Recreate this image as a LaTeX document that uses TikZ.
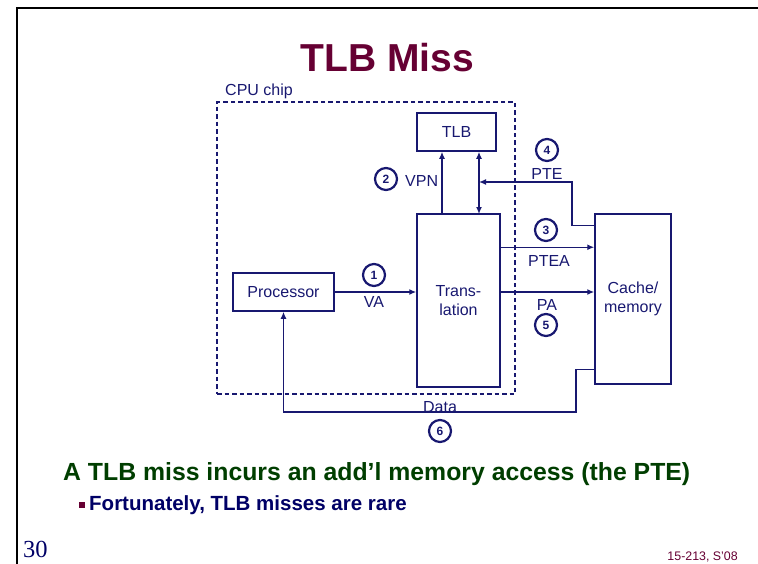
\documentclass[tikz,border=0pt]{standalone}
\usepackage{fontspec}
\setmainfont{Liberation Sans}
\newfontfamily\pagenumfont{Liberation Serif}
\usetikzlibrary{arrows.meta}
\definecolor{navy}{RGB}{24,24,112}
\definecolor{slidered}{RGB}{102,0,51}
\definecolor{slidegreen}{RGB}{0,62,0}
\definecolor{deepblue}{RGB}{0,0,102}

\tikzset{
  box/.style={draw=navy, line width=1.5pt, text=navy, align=center, inner sep=0pt,
              font=\fontsize{16}{19}\selectfont},
  lbl/.style={text=navy, inner sep=0pt, font=\fontsize{16}{19}\selectfont},
  num/.style={circle, draw=navy, line width=2.2pt, minimum size=22pt, inner sep=0pt,
              text=navy, font=\bfseries\fontsize{12}{12}\selectfont},
  chip/.style={draw=navy, line width=1.2pt, dash pattern=on 4.5pt off 3pt, inner sep=0pt},
  tip/.style={Latex[length=7pt,width=6pt]},
  link/.style={draw=navy, line width=1.4pt, -{Latex[length=7pt,width=6pt]}},
  dlink/.style={draw=navy, line width=1.4pt, {Latex[length=7pt,width=6pt]}-{Latex[length=7pt,width=6pt]}},
}

\begin{document}
\begin{tikzpicture}[x=1pt,y=-1pt]
\useasboundingbox (0,0) rectangle (758,563);

% slide frame
\draw[line width=2.5pt] (17,580) -- (17,8) -- (780,8);

% title
\node[anchor=base, inner sep=0pt, text=slidered,
      font=\bfseries\fontsize{39}{44}\selectfont] (title) at (387.5,71) {TLB Miss};

% CPU chip outline
\node[chip, minimum width=298pt, minimum height=292pt] (chip) at (366,248) {};
\node[lbl, anchor=base west] (chiplbl) at (225,95) {CPU chip};

% blocks
\node[box, minimum width=79pt, minimum height=38pt] (tlb) at (456.5,132) {TLB};
\node[box, minimum width=101pt, minimum height=38pt] (proc) at (283.5,292) {Processor};
\node[box, minimum width=83pt, minimum height=173pt] (trans) at (458.5,300.5) {Trans-\\lation};
\node[box, minimum width=76pt, minimum height=170pt] (mem) at (633,299) {Cache/\\memory};

% helper points on the block sides
\coordinate (vpnfoot) at (442,214);
\coordinate (tlbio) at (479,214);
\coordinate (ptebend) at (572,182);
\coordinate (pteaout) at ([yshift=-34pt]trans.north east);
\coordinate (pteout) at ([yshift=-12pt]mem.north west);
\coordinate (dataout) at ([yshift=15pt]mem.south west);
\coordinate (databend) at (576,412);

% connectors
\draw[link] (proc.east) -- (proc.east -| trans.west);
\draw[link] (vpnfoot) -- (vpnfoot |- tlb.south);
\draw[dlink] (tlbio) -- (tlbio |- tlb.south);
\draw[link] (pteaout) -- (pteaout -| mem.west);
\draw[link] (pteout) -| (ptebend) -- (ptebend -| tlbio);
\draw[link] (trans.east |- proc.east) -- (mem.west |- proc.east);
\draw[link] (dataout) -| (databend) -- (databend -| proc.south) -- (proc.south);

% connector labels
\node[lbl, anchor=base] (valbl) at (374,307) {VA};
\node[lbl, anchor=base west] (vpnlbl) at (405,186) {VPN};
\node[lbl, anchor=base] (ptelbl) at (547,179) {PTE};
\node[lbl, anchor=base] (ptealbl) at (549,266) {PTEA};
\node[lbl, anchor=base] (palbl) at (547,310) {PA};
\node[lbl, anchor=base] (datalbl) at (440,412) {Data};

% step numbers
\node[num] (n1) at (374,275) {1};
\node[num] (n2) at (386,179) {2};
\node[num] (n3) at (546,230) {3};
\node[num] (n4) at (547,150) {4};
\node[num] (n5) at (546,325) {5};
\node[num] (n6) at (440,431) {6};

% bullet text
\node[anchor=base west, inner sep=0pt, text=slidegreen,
      font=\bfseries\fontsize{24.8}{28}\selectfont] (point) at (63,480)
      {A TLB miss incurs an add'l memory access (the PTE)};
\fill[slidered] (79,502) rectangle (84.5,507.5);
\node[anchor=base west, inner sep=0pt, text=deepblue,
      font=\bfseries\fontsize{20.5}{24}\selectfont] (subpoint) at (89,510)
      {Fortunately, TLB misses are rare};

% footer
\node[anchor=base west, inner sep=0pt, text=deepblue,
      font=\pagenumfont\fontsize{24.5}{28}\selectfont] (pagenum) at (23,557) {30};
\node[anchor=base east, inner sep=0pt, text=slidered,
      font=\fontsize{12.4}{14}\selectfont] (course) at (738,560) {15-213, S'08};
\end{tikzpicture}
\end{document}
